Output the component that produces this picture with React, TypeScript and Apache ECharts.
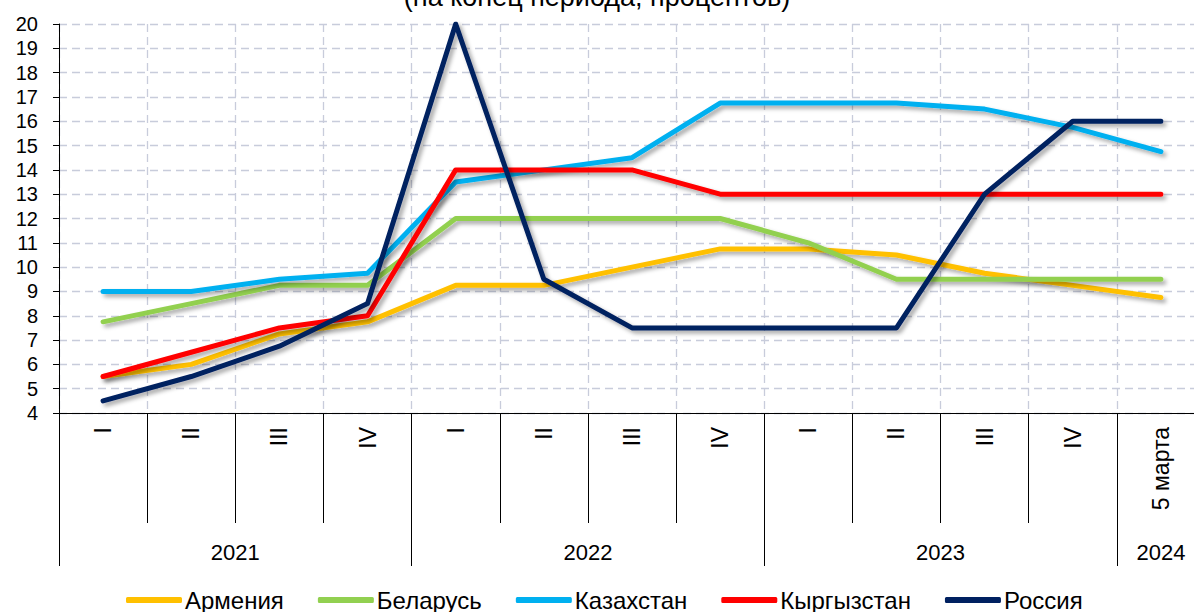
import React, { useEffect, useRef } from "react";
import * as echarts from "echarts";

const categories = ["I", "II", "III", "IV", "I", "II", "III", "IV", "I", "II", "III", "IV", "5 марта"];
const years = ["2021", "2022", "2023", "2024"];
const yearBounds = [0, 4, 8, 12, 13];
const yearCenters = [2, 6, 10, 12.5];

const armenia = [5.5, 6.0, 7.25, 7.75, 9.25, 9.25, 10.0, 10.75, 10.75, 10.5, 9.75, 9.25, 8.75];
const belarus = [7.75, 8.5, 9.25, 9.25, 12, 12, 12, 12, 11, 9.5, 9.5, 9.5, 9.5];
const kazakhstan = [9.0, 9.0, 9.5, 9.75, 13.5, 14.0, 14.5, 16.75, 16.75, 16.75, 16.5, 15.75, 14.75];
const kyrgyzstan = [5.5, 6.5, 7.5, 8.0, 14, 14, 14, 13, 13, 13, 13, 13, 13];
const russia = [4.5, 5.5, 6.75, 8.5, 20, 9.5, 7.5, 7.5, 7.5, 7.5, 13, 16, 16];

const seriesNames = ["Армения", "Беларусь", "Казахстан", "Кыргызстан", "Россия"];
const seriesData = [armenia, belarus, kazakhstan, kyrgyzstan, russia];
const seriesColors = ["#FFC000", "#92D050", "#00B0F0", "#FF0000", "#002060"];

const FONT = "Liberation Sans";

export default function App() {
  const ref = useRef<HTMLDivElement>(null);
  useEffect(() => {
    if (!ref.current) return;
    const chart = echarts.init(ref.current, null, { renderer: "svg" });
    chart.setOption({
      animation: false,
      title: {
        text: "(на конец периода, процентов)",
        left: "center",
        top: -22,
        textStyle: { fontSize: 27, fontWeight: "normal", color: "#000", fontFamily: FONT },
      },
      legend: {
        top: 583,
        left: 121,
        itemGap: 34,
        itemWidth: 56,
        itemHeight: 6,
        icon: "roundRect",
        textStyle: { fontSize: 24, color: "#000", fontFamily: FONT, padding: [0, 0, 0, -2] },
        data: seriesNames,
      },
      grid: {
        left: 59,
        width: 1146,
        top: 24,
        bottom: 199,
        containLabel: false,
        outerBoundsMode: "none",
      },
      xAxis: [
        {
          type: "category",
          data: categories,
          boundaryGap: true,
          axisLine: { show: true, lineStyle: { color: "#000", width: 1 } },
          axisTick: { show: true, interval: 0, length: 110, lineStyle: { color: "#000", width: 1 } },
          axisLabel: {
            interval: 0,
            rotate: 90,
            margin: 14,
            fontSize: 23,
            color: "#000",
            fontFamily: FONT,
          },
          splitLine: {
            show: true,
            interval: 0,
            lineStyle: { color: "#c8ccdb", type: [8, 5], width: 1.3 },
          },
        },
        {
          type: "value",
          min: 0,
          max: 13,
          position: "bottom",
          axisLine: { show: false },
          splitLine: { show: false },
          axisTick: {
            show: true,
            customValues: yearBounds,
            length: 153,
            lineStyle: { color: "#000", width: 1 },
          },
          axisLabel: {
            show: true,
            customValues: yearCenters,
            margin: 128,
            fontSize: 22,
            color: "#000",
            fontFamily: FONT,
            formatter: (v: number) => {
              const i = yearCenters.indexOf(v);
              return i >= 0 ? years[i] : "";
            },
          },
        },
      ],
      yAxis: {
        type: "value",
        min: 4,
        max: 20,
        interval: 1,
        axisLine: { show: true, lineStyle: { color: "#000", width: 1 } },
        axisTick: { show: true, length: 6, lineStyle: { color: "#000" } },
        axisLabel: { fontSize: 20, color: "#000", fontFamily: FONT, margin: 21 },
        splitLine: { show: true, lineStyle: { color: "#c8ccdb", type: [8, 5], width: 1.3 } },
      },
      series: seriesNames.map((name, i) => ({
        name,
        type: "line",
        data: seriesData[i],
        xAxisIndex: 0,
        yAxisIndex: 0,
        symbol: "none",
        showSymbol: false,
        color: seriesColors[i],
        z: 2 + i,
        lineStyle: {
          color: seriesColors[i],
          width: 5,
          cap: "round",
          join: "round",
          shadowColor: "rgba(0,0,0,0.35)",
          shadowBlur: 4,
          shadowOffsetX: 3,
          shadowOffsetY: 3,
        },
      })),
    });
    return () => chart.dispose();
  }, []);
  return (
    <div
      ref={ref}
      style={{ position: "fixed", left: 0, top: 0, width: 1194, height: 612, background: "#fff" }}
    />
  );
}
